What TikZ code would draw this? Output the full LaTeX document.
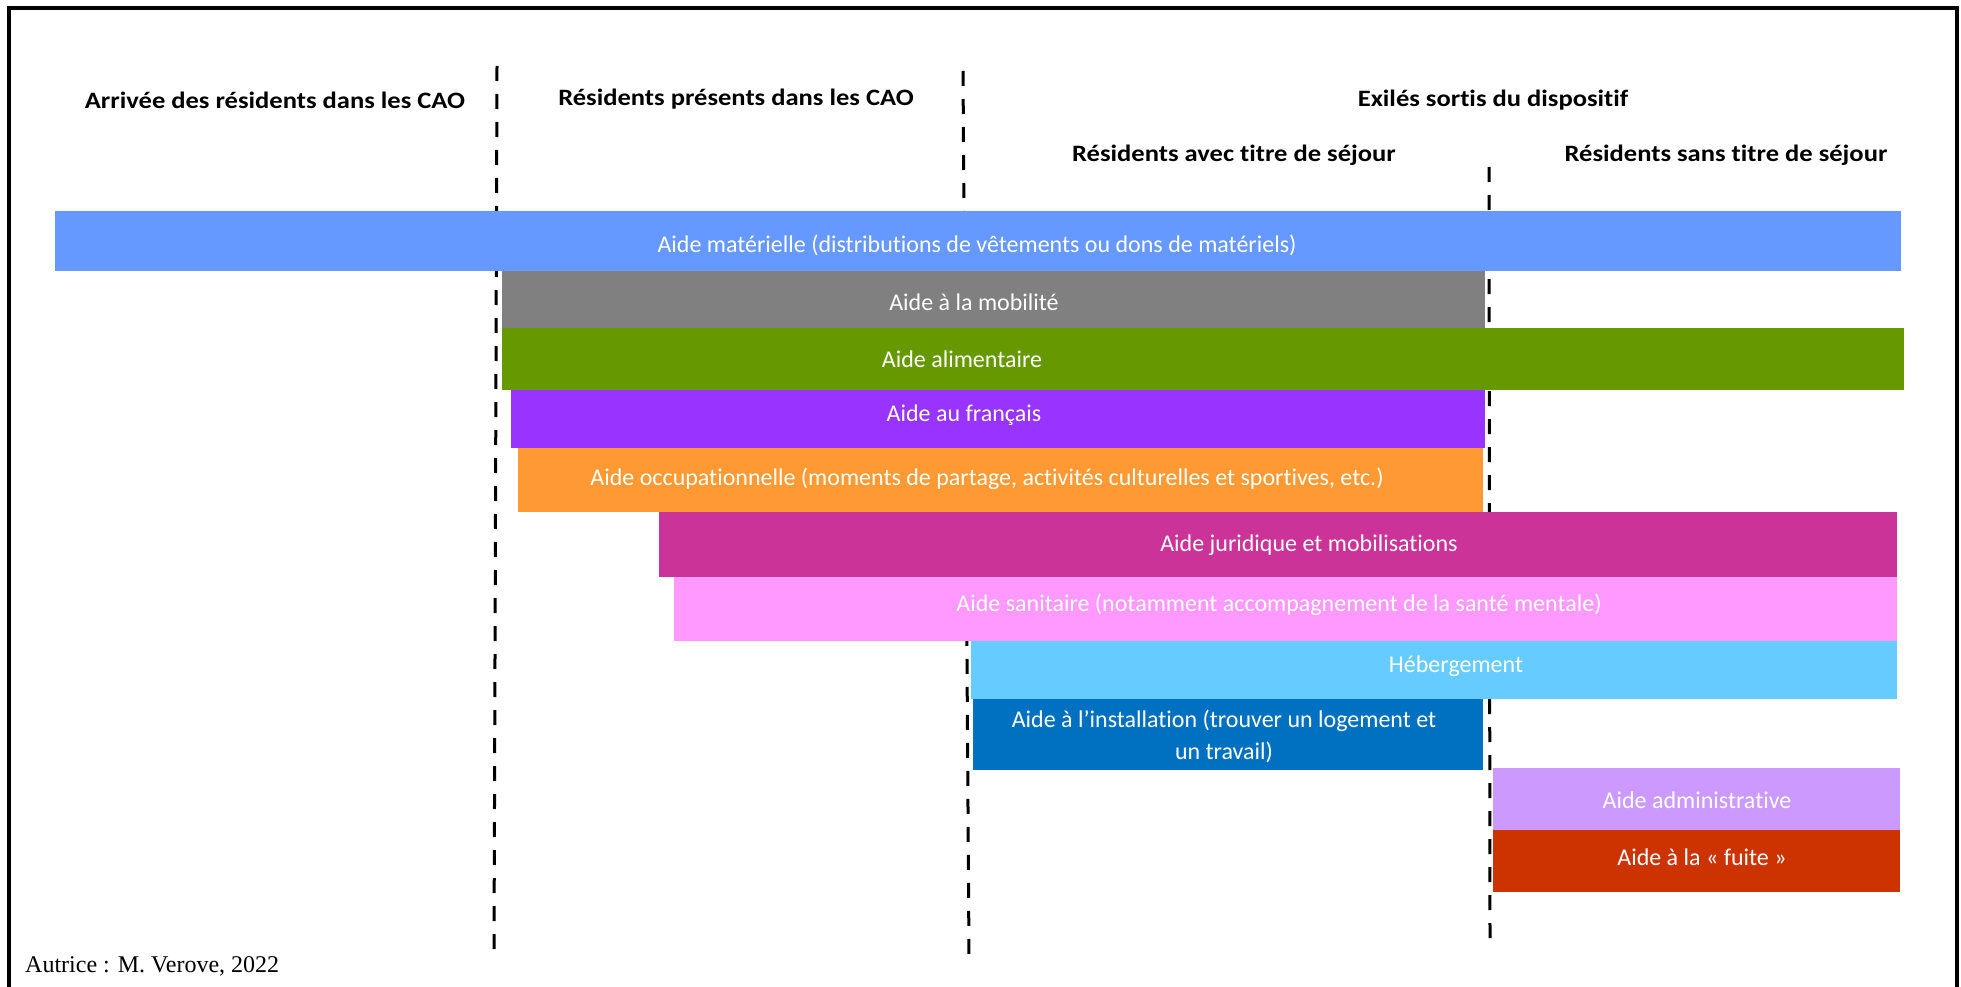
\documentclass[tikz,border=0pt]{standalone}
\usepackage{graphicx}
\usepackage{fontspec}
\setmainfont{Carlito}[Ligatures=NoCommon]
\newfontfamily\serifft{Liberation Serif}
\definecolor{cmat}{HTML}{6699FF}
\definecolor{cmob}{HTML}{808080}
\definecolor{calim}{HTML}{669900}
\definecolor{cfr}{HTML}{9933FF}
\definecolor{cocc}{HTML}{FF9933}
\definecolor{cjur}{HTML}{CC3399}
\definecolor{csan}{HTML}{FF99FF}
\definecolor{cheb}{HTML}{66CCFF}
\definecolor{cinst}{HTML}{0070C0}
\definecolor{cadm}{HTML}{CC99FF}
\definecolor{cfui}{HTML}{CC3300}
\tikzset{
  barbox/.style={draw=none, inner sep=0pt, anchor=north west},
  barlabel/.style={text=white, font=\fontsize{24}{29}\selectfont, inner sep=0pt, align=center},
  header/.style={font=\fontsize{23.5}{28}\selectfont\bfseries, inner sep=0pt},
  sepline/.style={line width=3pt, dash pattern=on 15pt off 13pt},
}
\newcommand{\barat}[6]{% name, color, x1, y1, x2, y2
  \node[barbox, fill=#2, minimum width=#5pt-#3pt, minimum height=#6pt-#4pt] (#1) at (#3,#4) {};}
\newcommand{\hstretch}[1]{\scalebox{1.13}[1]{#1}}
\begin{document}
\begin{tikzpicture}[x=1pt,y=-1pt]
\useasboundingbox (0,0) rectangle (1961,987);
\clip (0,0) rectangle (1961,987);
% frame
\draw[line width=3.5pt] (9,1000) -- (9,8) -- (1957,8) -- (1957,1000);
% separators
\coordinate (s1a) at (497,66);  \coordinate (s1b) at (494,952);
\coordinate (s2a) at (963,71);  \coordinate (s2b) at (969,957);
\coordinate (s3a) at (1489,167); \coordinate (s3b) at (1490,942);
\draw[sepline] (s1a) -- (s1b);
\draw[sepline] (s2a) -- (s2b);
\draw[sepline] (s3a) -- (s3b);
% headers
\node[header] (h1) at (275,100) {\hstretch{Arrivée des résidents dans les CAO}};
\node[header] (h2) at (736,99) {\hstretch{Résidents présents dans les CAO}};
\node[header] (h3) at (1493,100) {\hstretch{Exilés sortis du dispositif}};
\node[header] (h4) at (1234,155) {\hstretch{Résidents avec titre de séjour}};
\node[header] (h5) at (1726,155) {\hstretch{Résidents sans titre de séjour}};
% bars
\barat{bmat}{cmat}{55}{211}{1901}{271}
\barat{bmob}{cmob}{502}{271}{1485}{328}
\barat{balim}{calim}{502}{328}{1904}{390}
\barat{bfr}{cfr}{511}{390}{1485}{448}
\barat{bocc}{cocc}{518}{448}{1483}{512}
\barat{bjur}{cjur}{659}{512}{1897}{577}
\barat{bsan}{csan}{674}{577}{1897}{641}
\barat{bheb}{cheb}{971}{641}{1897}{699}
\barat{binst}{cinst}{973}{699}{1483}{770}
\barat{badm}{cadm}{1493}{768}{1900}{830}
\barat{bfui}{cfui}{1493}{830}{1900}{892}
% labels
\node[barlabel] (lmat) at (977,245) {Aide matérielle (distributions de vêtements ou dons de matériels)};
\node[barlabel] (lmob) at (974,302) {Aide à la mobilité};
\node[barlabel] (lalim) at (962,359) {Aide alimentaire};
\node[barlabel] (lfr) at (964,415) {Aide au français};
\node[barlabel] (locc) at (987,479) {Aide occupationnelle (moments de partage, activités culturelles et sportives, etc.)};
\node[barlabel] (ljur) at (1309,545) {Aide juridique et mobilisations};
\node[barlabel] (lsan) at (1279,605) {Aide sanitaire (notamment accompagnement de la santé mentale)};
\node[barlabel] (lheb) at (1456,666) {Hébergement};
\node[barlabel, font=\fontsize{24}{32}\selectfont] (linst) at (1224,736) {Aide à l’installation (trouver un logement et\\un travail)};
\node[barlabel] (ladm) at (1697,800) {Aide administrative};
\node[barlabel] (lfui) at (1702,857) {Aide à la «~fuite~»};
% credit
\node[font=\serifft\fontsize{24}{28}\selectfont, anchor=west, inner sep=0pt] (cred) at (25,966) {Autrice : M. Verove, 2022};
\end{tikzpicture}
\end{document}
